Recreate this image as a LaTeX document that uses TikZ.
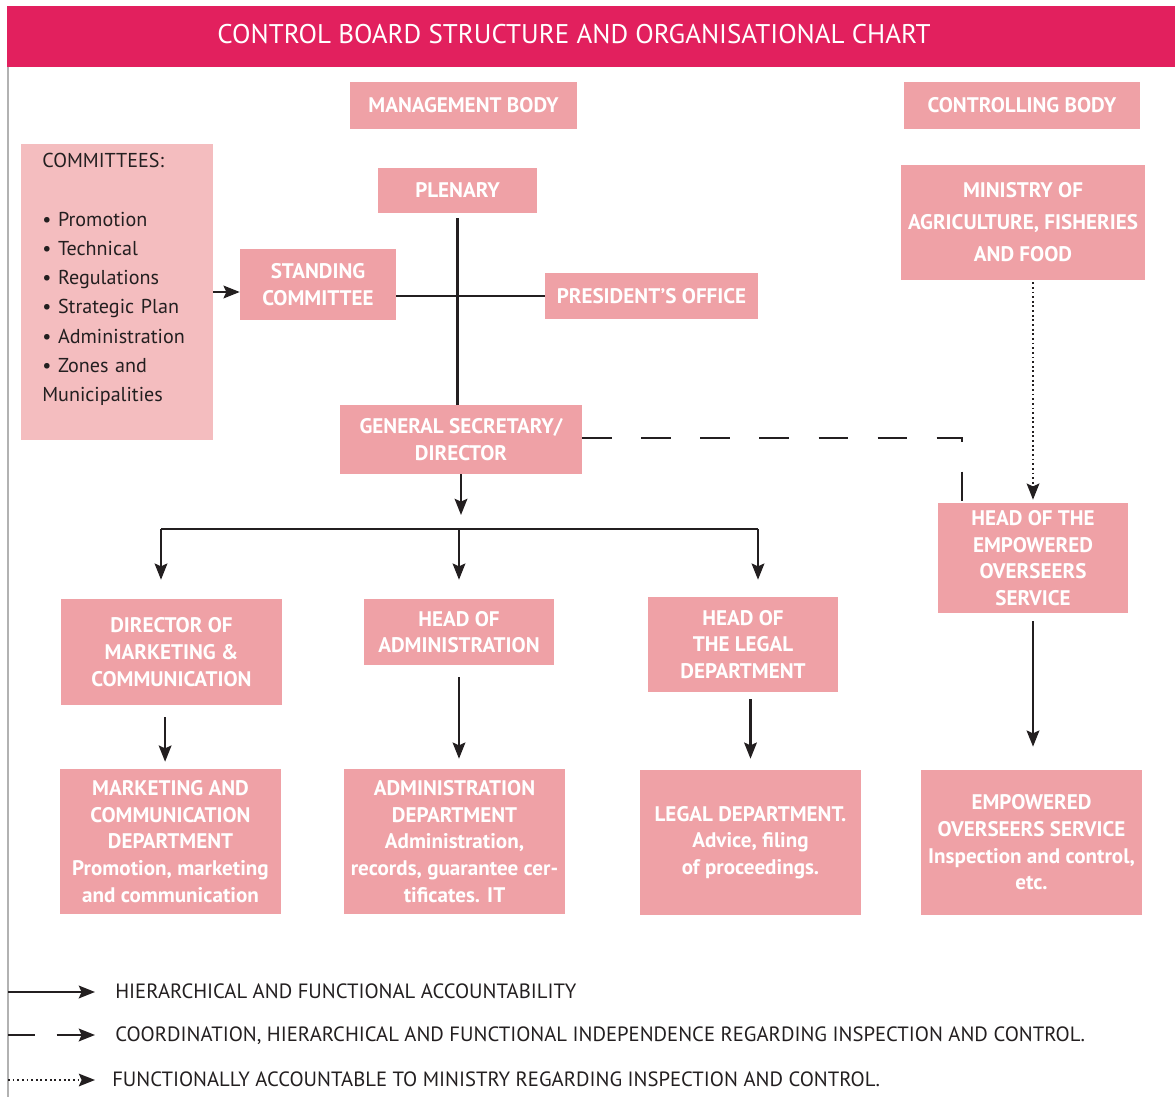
\documentclass[tikz,border=0pt]{standalone}
\usepackage{fontspec}
\setmainfont{PT Sans}
\usetikzlibrary{arrows.meta}
\definecolor{headred}{HTML}{E2205E}
\definecolor{boxpink}{HTML}{EFA1A6}
\definecolor{lightpink}{HTML}{F4BDBF}
\definecolor{ink}{HTML}{231F20}
\tikzset{
  box/.style={fill=boxpink, text=white, align=center, inner sep=0pt,
    font=\bfseries\fontsize{15}{19}\selectfont},
  sz/.style 2 args={minimum width=#1*0.025cm, minimum height=#2*0.025cm},
  link/.style={draw=ink, line width=1.8pt},
  arr/.style={link, -{Stealth[length=11.5pt,width=9pt,inset=2pt]}},
  dashlink/.style={link, dash pattern=on 21pt off 21pt},
  dotlink/.style={draw=ink, line width=1.3pt, dotted, -{Stealth[length=11.5pt,width=9pt,inset=2pt]}},
  legend/.style={text=ink, inner sep=0pt, font=\fontsize{14.7}{17}\selectfont}
}

\begin{document}
\begin{tikzpicture}[x=0.025cm, y=-0.025cm]
\useasboundingbox (0,0) rectangle (1175,1097);
% title bar
\fill[headred] (7,6) rectangle (1175,67);
\node[text=white, font=\fontsize{19.2}{22}\selectfont] (title) at (574,34) {CONTROL BOARD STRUCTURE AND ORGANISATIONAL CHART};
\draw[gray!60, line width=1pt] (8,67) -- (8,1097);

% headings
\node[box, sz={227}{47}] (mgmt) at (463.5,105.5) {MANAGEMENT BODY};
\node[box, sz={236}{47}] (ctrl) at (1022,105.5) {CONTROLLING BODY};

% committees
\node[fill=lightpink, sz={192}{296}] (comm) at (117,292) {};
\node[anchor=north west, inner sep=0pt, text width=4cm, align=left, text=ink,
  font=\fontsize{14.3}{20.8}\selectfont] (commlist) at (42,153)
  {COMMITTEES:\\[20.8pt]
   • Promotion\\ • Technical\\ • Regulations\\ • Strategic Plan\\
   • Administration\\ • Zones and\\ Municipalities};

% management body
\node[box, sz={159}{45}] (plen) at (457.5,190.5) {PLENARY};
\node[box, sz={156}{71}] (stand) at (318,284.5) {STANDING\\COMMITTEE};
\node[box, sz={213}{46}] (pres) at (651.5,296) {PRESIDENT’S OFFICE};
\node[box, sz={242}{69}] (gs) at (461,439.5) {GENERAL SECRETARY/\\DIRECTOR};

% controlling body
\node[box, sz={244}{115}, font=\bfseries\fontsize{15}{22.8}\selectfont] (min) at (1023,222.5)
  {MINISTRY OF\\AGRICULTURE, FISHERIES\\AND FOOD};
\node[box, sz={190}{110}] (heademp) at (1033,558) {HEAD OF THE\\EMPOWERED\\OVERSEERS\\SERVICE};

% heads
\node[box, sz={221}{106}] (dirm) at (171.5,652) {DIRECTOR OF\\MARKETING \&\\COMMUNICATION};
\node[box, sz={190}{66}] (headadm) at (459,632) {HEAD OF\\ADMINISTRATION};
\node[box, sz={190}{95}] (headleg) at (743,644.5) {HEAD OF\\THE LEGAL\\DEPARTMENT};

% departments
\node[box, sz={221}{145}] (mktdep) at (170.5,841.5)
  {MARKETING AND\\COMMUNICATION\\DEPARTMENT\\Promotion, marketing\\and communication};
\node[box, sz={221}{145}] (admdep) at (454.5,841.5)
  {ADMINISTRATION\\DEPARTMENT\\Administration,\\records, guarantee cer-\\tificates. IT};
\node[box, sz={221}{145}] (legdep) at (750.5,842.5)
  {LEGAL DEPARTMENT.\\Advice, filing\\of proceedings.};
\node[box, sz={221}{145}] (empdep) at (1031.5,842.5)
  {EMPOWERED\\OVERSEERS SERVICE\\Inspection and control,\\etc.};

% connectors
\draw[arr] (comm.east) -- (comm.east -| stand.west);
\draw[link, shorten <=0.12cm] (plen.south) -- (plen.south |- gs.north);
\draw[link] (stand.east |- pres.west) -- (pres.west);
\coordinate (gsend) at (459,515);
\draw[arr] (gs.south) -- (gs.south |- gsend);
\coordinate (busL) at (161,529);
\coordinate (busR) at (758,529);
\draw[link] (busL) -- (busR);
\draw[arr, shorten >=0.475cm] (busL) -- (busL |- dirm.north);
\draw[arr, shorten >=0.475cm] (headadm.north |- busL) -- (headadm.north);
\draw[arr, shorten >=0.425cm] (busR) -- (busR |- headleg.north);
\draw[arr, shorten <=0.3cm, shorten >=0.175cm] ([xshift=-0.16cm]dirm.south) -- ([xshift=-0.16cm]dirm.south |- mktdep.north);
\draw[arr, shorten <=0.3cm, shorten >=0.25cm] (headadm.south) -- (headadm.south |- admdep.north);
\draw[arr, shorten <=0.175cm, shorten >=0.275cm] (legdep.north |- headleg.south) -- (legdep.north);
\draw[arr, shorten <=0.2cm, shorten >=0.575cm] (heademp.south) -- (heademp.south |- empdep.north);
\draw[dotlink, shorten <=0.05cm, shorten >=0.075cm] (heademp.north |- min.south) -- (heademp.north);
\coordinate (bend) at (962,438);
\draw[dashlink] (gs.east |- bend) -- (bend) -- (bend |- heademp.north);

% legend
\node[legend, anchor=base west] (leg1) at (115,998.5) {HIERARCHICAL AND FUNCTIONAL ACCOUNTABILITY};
\node[legend, anchor=base west] (leg2) at (115,1041.5) {COORDINATION, HIERARCHICAL AND FUNCTIONAL INDEPENDENCE REGARDING INSPECTION AND CONTROL.};
\node[legend, anchor=base west] (leg3) at (112,1086.5) {FUNCTIONALLY ACCOUNTABLE TO MINISTRY REGARDING INSPECTION AND CONTROL.};
\coordinate (k1) at (8,992);
\coordinate (k2) at (8,1035);
\coordinate (k3) at (8,1080);
\draw[arr] (k1) -- (k1 -| 95,0);
\draw[link, dash pattern=on 19pt off 15.5pt, -{Stealth[length=11.5pt,width=9pt,inset=2pt]}] (k2) -- (k2 -| 95,0);
\draw[dotlink] (k3) -- (k3 -| 95,0);
\end{tikzpicture}
\end{document}
